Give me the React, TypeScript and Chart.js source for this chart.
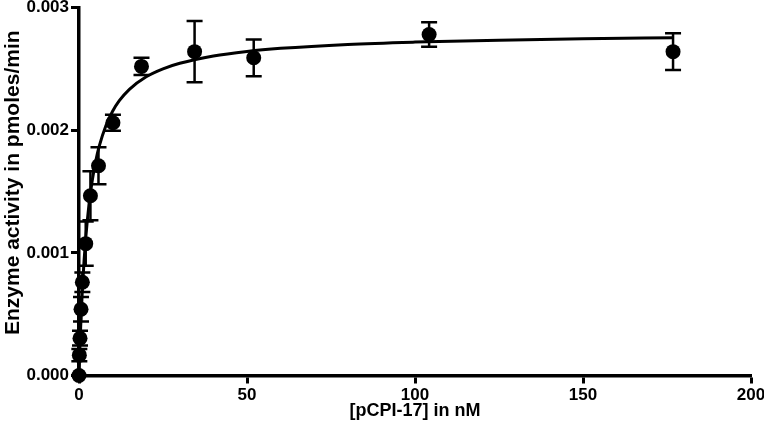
import React, { useEffect, useRef } from "react";
import { Chart, registerables } from "chart.js";

Chart.register(...registerables);

// Measured data (concentration in nM, activity in pmoles/min, SEM)
const concentrations = [0, 0.1, 0.3, 0.6, 1.0, 2.0, 3.4, 5.8, 10.1, 18.6, 34.4, 52.0, 104.2, 176.8];
const activity = [0, 0.000166, 0.000304, 0.00054, 0.00076, 0.001075, 0.001465, 0.00171, 0.00206, 0.00252, 0.00264, 0.00259, 0.00278, 0.00264];
const errors = [0, 0.00005, 0.00006, 0.0001, 0.00008, 0.00018, 0.0002, 0.00015, 0.000065, 0.00007, 0.00025, 0.00015, 0.0001, 0.00015];

// Fitted curve
const curveX = [0, 0.25, 0.5, 1, 1.5, 2, 3, 4, 5, 6, 8, 10, 12, 15, 20, 25, 30, 40, 50, 60, 80, 100, 125, 150, 177];
const curveY = [0, 0.000215, 0.0004, 0.0007, 0.000933, 0.00112, 0.0014, 0.0016, 0.00175, 0.001867, 0.002036, 0.002154, 0.00224, 0.002333, 0.002435, 0.0025, 0.002545, 0.002605, 0.002642, 0.002667, 0.002699, 0.002718, 0.002734, 0.002745, 0.002753];

const xTicks = [0, 50, 100, 150, 200];
const yTicks = [0, 0.001, 0.002, 0.003];

const FONT = "'Liberation Sans', Arial, sans-serif";

const errorBarPlugin = {
  id: "errorBars",
  beforeDatasetsDraw(chart: any) {
    const { ctx } = chart;
    const xs = chart.scales.x;
    const ys = chart.scales.y;
    ctx.save();
    ctx.strokeStyle = "#000";
    ctx.lineWidth = 2.5;
    const cap = 8;
    concentrations.forEach((c, i) => {
      const e = errors[i];
      if (!e) return;
      const px = xs.getPixelForValue(c);
      const top = ys.getPixelForValue(activity[i] + e);
      const bot = ys.getPixelForValue(activity[i] - e);
      ctx.beginPath();
      ctx.moveTo(px, top);
      ctx.lineTo(px, bot);
      ctx.moveTo(px - cap, top);
      ctx.lineTo(px + cap, top);
      ctx.moveTo(px - cap, bot);
      ctx.lineTo(px + cap, bot);
      ctx.stroke();
    });
    ctx.restore();
  },
};

export default function App() {
  const ref = useRef<HTMLCanvasElement | null>(null);
  useEffect(() => {
    if (!ref.current) return;
    const chart = new Chart(ref.current, {
      type: "scatter",
      data: {
        datasets: [
          {
            label: "fit",
            data: curveX.map((x, i) => ({ x, y: curveY[i] })),
            showLine: true,
            borderColor: "#000",
            borderWidth: 3,
            pointRadius: 0,
            cubicInterpolationMode: "monotone",
            clip: false as any,
            order: 2,
          } as any,
          {
            label: "data",
            data: concentrations.map((x, i) => ({ x, y: activity[i] })),
            backgroundColor: "#000",
            borderColor: "#000",
            pointRadius: 7.5,
            borderWidth: 0,
            clip: false as any,
            order: 1,
          } as any,
        ],
      },
      options: {
        animation: false,
        responsive: false,
        devicePixelRatio: 1,
        layout: { padding: { top: 6, right: 13, bottom: 0, left: 0 } },
        plugins: { legend: { display: false }, tooltip: { enabled: false } },
        scales: {
          x: {
            type: "linear",
            min: 0,
            max: 200,
            afterBuildTicks: (s: any) => {
              s.ticks = xTicks.map((v) => ({ value: v }));
            },
            afterFit: (s: any) => {
              s.height = 60.5;
              s.paddingRight = 0;
              s.paddingLeft = 0;
            },
            grid: { display: true, drawOnChartArea: false, drawTicks: true, tickLength: 8, tickWidth: 3, tickColor: "#000" },
            border: { display: true, width: 3.5, color: "#000" },
            ticks: {
              color: "#000",
              padding: 2,
              font: { family: FONT, size: 17, weight: "bold" },
              maxRotation: 0,
              callback: (v: any) => String(v),
            },
            title: {
              display: true,
              text: "[pCPI-17] in nM",
              color: "#000",
              font: { family: FONT, size: 18, weight: "bold" },
              padding: { top: 0, bottom: 14 },
            },
          },
          y: {
            type: "linear",
            min: 0,
            max: 0.003,
            afterBuildTicks: (s: any) => {
              s.ticks = yTicks.map((v) => ({ value: v }));
            },
            afterFit: (s: any) => {
              s.width = 79;
              s.paddingTop = 0;
              s.paddingBottom = 0;
            },
            grid: { display: true, drawOnChartArea: false, drawTicks: true, tickLength: 8, tickWidth: 3, tickColor: "#000" },
            border: { display: true, width: 3.5, color: "#000" },
            ticks: {
              color: "#000",
              padding: 2,
              font: { family: FONT, size: 17, weight: "bold" },
              callback: (v: any) => Number(v).toFixed(3),
            },
            title: {
              display: true,
              text: "   Enzyme activity in pmoles/min",
              color: "#000",
              font: { family: FONT, size: 21, weight: "bold" },
              padding: { top: 1, bottom: 0 },
            },
          },
        },
      },
      plugins: [errorBarPlugin],
    } as any);
    return () => chart.destroy();
  }, []);
  return (
    <div style={{ position: "fixed", left: 0, top: 0, width: 764, height: 436, background: "#fff" }}>
      <canvas ref={ref} width={764} height={436} style={{ width: 764, height: 436 }} />
    </div>
  );
}
